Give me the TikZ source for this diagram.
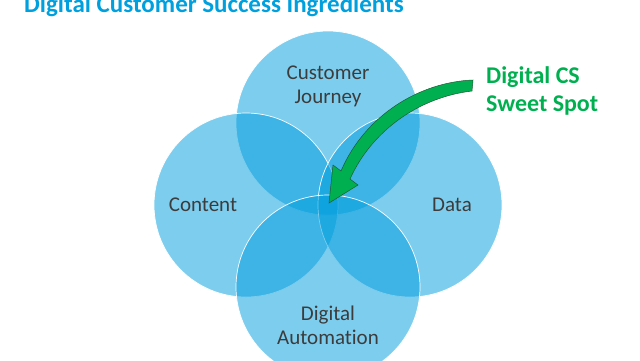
\documentclass[tikz,border=0pt]{standalone}
\usepackage{fontspec}
\setmainfont{Carlito}[Ligatures=NoCommon]
\usepackage{xcolor}
\usetikzlibrary{positioning}
\definecolor{PetalC}{RGB}{0,157,221}
\definecolor{TitleC}{RGB}{0,160,222}
\definecolor{LabelC}{RGB}{60,60,60}
\definecolor{SpotC}{RGB}{0,176,80}
\definecolor{SpotEdge}{RGB}{30,90,50}
\tikzset{
  petal/.style={circle,fill=PetalC,fill opacity=0.51,draw=white,
                line width=0.7pt,minimum size=184pt,inner sep=0pt},
  ptext/.style={align=center,text=LabelC,font=\fontsize{21}{24}\selectfont},
  spot/.style={align=left,text=SpotC,font=\fontsize{24}{28}\selectfont\bfseries},
  bigarrow/.style={fill=SpotC,draw=SpotEdge,line width=0.5pt,line join=miter},
}

\begin{document}
\begin{tikzpicture}[x=1pt,y=-1pt]
  \useasboundingbox (0,0) rectangle (640,360);

  % title (cut by the top edge)
  \node[anchor=base west,inner sep=0pt,text=TitleC,
        font=\fontsize{25}{30}\selectfont\bfseries] (title) at (24,12)
    {Digital Customer Success Ingredients};

  % four petals
  \node[petal] (jour) at (328,123) {};
  \node[petal] (cont) at (246,205) {};
  \node[petal] (data) at (410,205) {};
  \node[petal] (auto) at (328,287) {};

  % petal labels
  \node[ptext] (ljour) at (328,86) {Customer\\Journey};
  \node[ptext] (lcont) at (203,205) {Content};
  \node[ptext] (ldata) at (452,205) {Data};
  \node[ptext] (lauto) at (328,325) {Digital\\Automation};

  % sweet spot
  \node[spot,anchor=west,inner sep=0pt] (sweet) at (486,91) {Digital CS\\Sweet Spot};
  \coordinate (tip) at (329,203);
  \draw[bigarrow] (473,80) .. controls (420,82) and (365,115) .. (341,171)
    -- (333,165) -- (tip) -- (358,185) -- (350,179)
    .. controls (372,130) and (420,97) .. (472,91) -- cycle;
\end{tikzpicture}
\end{document}
